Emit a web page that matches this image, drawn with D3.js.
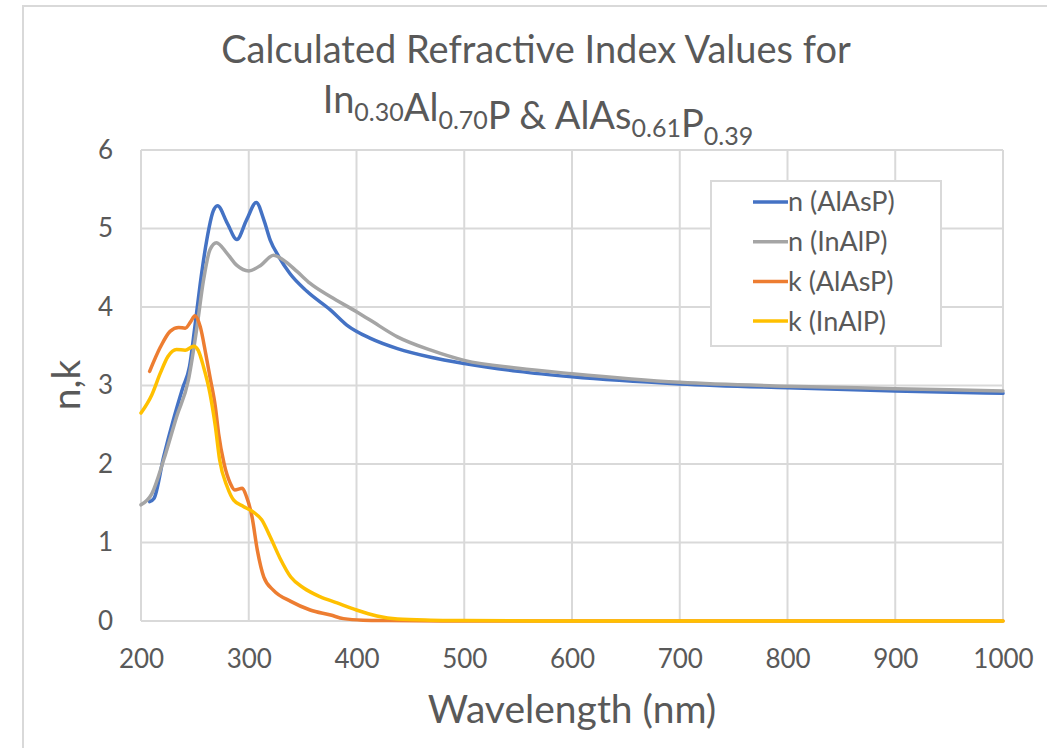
<!DOCTYPE html>
<html>
<head>
<meta charset="utf-8">
<script src="https://cdn.jsdelivr.net/npm/d3@7"></script>
<style>
  body { margin: 0; background: #fff; }
  text { font-family: Lato, "Open Sans", sans-serif; fill: #595959; }
</style>
</head>
<body>
<div id="chart"></div>
<script>
// series data
var nAlAsPWl = [208, 212, 221, 230, 239, 245, 250, 255, 261, 267, 271, 280, 289, 298, 307, 314, 320, 328, 338, 354, 376, 391, 413, 438, 469, 500, 550, 600, 700, 800, 900, 1000];
var nAlAsP   = [1.52, 1.56, 2.09, 2.56, 2.98, 3.24, 3.75, 4.30, 4.85, 5.22, 5.29, 5.07, 4.86, 5.11, 5.33, 5.11, 4.85, 4.64, 4.43, 4.20, 3.96, 3.77, 3.60, 3.47, 3.36, 3.28, 3.18, 3.11, 3.02, 2.97, 2.93, 2.90];

var nInAlPWl = [200, 210, 221, 233, 244, 252, 258, 264, 270, 280, 289, 300, 311, 323, 332, 345, 357, 376, 400, 413, 438, 469, 500, 550, 600, 700, 800, 900, 1000];
var nInAlP   = [1.48, 1.62, 2.05, 2.60, 3.07, 3.75, 4.34, 4.73, 4.82, 4.68, 4.53, 4.46, 4.53, 4.66, 4.60, 4.45, 4.30, 4.13, 3.94, 3.83, 3.62, 3.45, 3.32, 3.22, 3.15, 3.04, 2.99, 2.96, 2.93];

var kAlAsPWl = [208, 218, 227, 235, 241, 246, 250, 255, 260, 264, 269, 272, 277, 283, 287, 294, 298, 303, 308, 314, 323, 339, 357, 376, 388, 406, 430, 500, 600, 700, 800, 900, 1000];
var kAlAsP   = [3.18, 3.49, 3.69, 3.74, 3.73, 3.81, 3.89, 3.75, 3.41, 3.11, 2.73, 2.39, 2.01, 1.75, 1.67, 1.69, 1.58, 1.33, 0.90, 0.56, 0.39, 0.25, 0.14, 0.076, 0.03, 0.01, 0.005, 0, 0, 0, 0, 0, 0];

var kInAlPWl = [200, 210, 218, 225, 233, 241, 249, 253, 258, 264, 269, 273, 280, 286, 295, 304, 312, 320, 329, 339, 351, 366, 382, 400, 419, 438, 469, 500, 600, 700, 800, 900, 1000];
var kInAlP   = [2.65, 2.88, 3.16, 3.37, 3.46, 3.45, 3.50, 3.45, 3.24, 2.90, 2.48, 2.05, 1.71, 1.54, 1.46, 1.39, 1.29, 1.07, 0.80, 0.56, 0.42, 0.31, 0.23, 0.14, 0.064, 0.025, 0.01, 0.005, 0, 0, 0, 0, 0];

var seriesNames  = ["n (AlAsP)", "n (InAlP)", "k (AlAsP)", "k (InAlP)"];
var seriesColors = ["#4472C4", "#A5A5A5", "#ED7D31", "#FFC000"];
var xTicks = [200, 300, 400, 500, 600, 700, 800, 900, 1000];
var yTicks = [0, 1, 2, 3, 4, 5, 6];

var series = [
    {name: seriesNames[0], color: seriesColors[0], wl: nAlAsPWl, v: nAlAsP},
    {name: seriesNames[1], color: seriesColors[1], wl: nInAlPWl, v: nInAlP},
    {name: seriesNames[2], color: seriesColors[2], wl: kAlAsPWl, v: kAlAsP},
    {name: seriesNames[3], color: seriesColors[3], wl: kInAlPWl, v: kInAlP}
];

var W = 1047, H = 748;
var margin = {top: 150, right: 44, bottom: 127, left: 141},
    width = W - margin.left - margin.right,
    height = H - margin.top - margin.bottom;

var svg = d3.select("#chart").append("svg")
    .attr("width", W)
    .attr("height", H);

// outer chart frame (only top and left visible)
svg.append("path")
    .attr("d", "M23," + H + "V6H" + W)
    .attr("fill", "none")
    .attr("stroke", "#d9d9d9")
    .attr("stroke-width", 2);

var x = d3.scaleLinear().domain([200, 1000]).range([0, width]);
var y = d3.scaleLinear().domain([0, 6]).range([height, 0]);

var g = svg.append("g")
    .attr("transform", "translate(" + margin.left + "," + margin.top + ")");

// gridlines
g.append("g")
    .selectAll("line")
    .data(yTicks)
    .enter().append("line")
    .attr("x1", 0).attr("x2", width)
    .attr("y1", function (d) { return y(d); })
    .attr("y2", function (d) { return y(d); })
    .attr("stroke", "#d9d9d9")
    .attr("stroke-width", 2);

g.append("g")
    .selectAll("line")
    .data(xTicks)
    .enter().append("line")
    .attr("y1", 0).attr("y2", height)
    .attr("x1", function (d) { return x(d); })
    .attr("x2", function (d) { return x(d); })
    .attr("stroke", "#d9d9d9")
    .attr("stroke-width", 2);

// axes, labels only
var xAxis = g.append("g")
    .attr("transform", "translate(0," + height + ")")
    .call(d3.axisBottom(x).tickValues(xTicks).tickSize(0).tickPadding(29).tickFormat(d3.format("d")));
var yAxis = g.append("g")
    .call(d3.axisLeft(y).tickValues(yTicks).tickSize(0).tickPadding(28).tickFormat(d3.format("d")));
[xAxis, yAxis].forEach(function (a) {
    a.select(".domain").remove();
    a.selectAll("text")
        .attr("fill", "#595959")
        .style("font-family", "Lato, 'Open Sans', sans-serif")
        .style("font-size", "26px");
});

// curves
var line = d3.line()
    .x(function (d) { return x(d[0]); })
    .y(function (d) { return y(d[1]); })
    .curve(d3.curveMonotoneX);

g.append("g")
    .selectAll("path")
    .data(series)
    .enter().append("path")
    .attr("d", function (s) { return line(s.wl.map(function (w, i) { return [w, s.v[i]]; })); })
    .attr("fill", "none")
    .attr("stroke", function (s) { return s.color; })
    .attr("stroke-width", 3.5)
    .attr("stroke-linejoin", "round")
    .attr("stroke-linecap", "round");

// legend
var legend = svg.append("g").attr("transform", "translate(711,181)");
legend.append("rect")
    .attr("width", 230).attr("height", 165)
    .attr("fill", "#fff")
    .attr("stroke", "#d9d9d9")
    .attr("stroke-width", 2);
var item = legend.selectAll(".item")
    .data(series)
    .enter().append("g")
    .attr("class", "item")
    .attr("transform", function (d, i) { return "translate(0," + (21 + i * 39.7) + ")"; });
item.append("line")
    .attr("x1", 42).attr("x2", 77)
    .attr("stroke", function (d) { return d.color; })
    .attr("stroke-width", 3.5);
item.append("text")
    .attr("x", 77)
    .attr("dy", "0.35em")
    .style("font-size", "27px")
    .text(function (d) { return d.name; });

// titles
var title = svg.append("g").attr("text-anchor", "middle");
title.append("text")
    .attr("x", 536).attr("y", 63)
    .style("font-size", "38px")
    .text("Calculated Refractive Index Values for");
var t2 = title.append("text")
    .attr("x", 538).attr("y", 113)
    .style("font-size", "38px");
[["In", false], ["0.30", true], ["Al", false], ["0.70", true], ["P & AlAs", false], ["0.61", true], ["P", false], ["0.39", true]]
    .forEach(function (p) {
        t2.append("tspan")
            .attr("dy", p[1] ? 8 : 0)
            .style("font-size", p[1] ? "25px" : "38px")
            .text(p[0]);
        if (p[1]) t2.append("tspan").attr("dy", -8).text("");
    });

svg.append("text")
    .attr("x", 572).attr("y", 723)
    .attr("text-anchor", "middle")
    .style("font-size", "39px")
    .text("Wavelength (nm)");

svg.append("text")
    .attr("transform", "translate(80,385) rotate(-90)")
    .attr("text-anchor", "middle")
    .style("font-size", "39px")
    .text("n,k");
</script>
</body>
</html>
